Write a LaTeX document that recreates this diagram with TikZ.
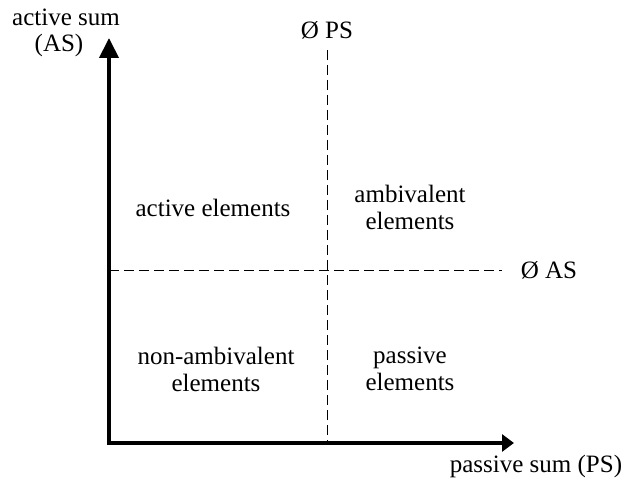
\documentclass[tikz,border=0pt]{standalone}
\usepackage{fontspec}
\setmainfont{Liberation Serif}
\usetikzlibrary{arrows.meta}
\begin{document}
\begin{tikzpicture}[x=1pt,y=-1pt,
  lbl/.style={font=\fontsize{25}{27}\selectfont, align=center, inner sep=0pt},
  axis/.style={line width=4pt},
  quad/.style={dashed, dash pattern=on 10pt off 5pt, line width=1pt}]
\useasboundingbox (0,0) rectangle (621,481);
\coordinate (O) at (109,443);
\coordinate (Ytip) at (109,38);
\coordinate (Xtip) at (514,443);
\coordinate (Vtop) at (327,50);
\coordinate (Vbot) at (327,443);
\coordinate (Hl) at (109,270);
\coordinate (Hr) at (502,270);
\draw[quad] (Vtop) -- (Vbot);
\draw[quad] (Hl) -- (Hr);
\draw[axis, -{Triangle[length=20pt,width=19pt]}] (O) -- (Ytip);
\draw[axis, -{Triangle[length=12pt,width=17pt]}] ([xshift=-2pt]O) -- (Xtip);
\node[lbl] (ay) at (66,17) {active sum};
\node[lbl] (ays) at (59,45) {(AS)};
\node[lbl] (px) at (536,466) {passive sum (PS)};
\node[lbl] (aps) at (327,30) {Ø PS};
\node[lbl] (aas) at (549,270) {Ø AS};
\node[lbl] (q1) at (213,208) {active elements};
\node[lbl] (q2) at (410,207) {ambivalent\\elements};
\node[lbl] (q3) at (216,369) {non-ambivalent\\elements};
\node[lbl] (q4) at (410,369) {passive\\elements};
\end{tikzpicture}
\end{document}
